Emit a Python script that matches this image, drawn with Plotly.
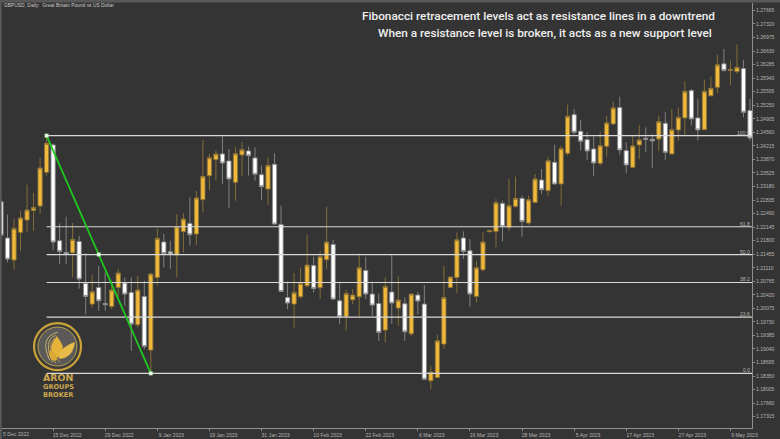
import plotly.graph_objects as go

highs = [1.22869,1.22461,1.22359,1.22563,1.23226,1.23014,1.23914,1.24475,1.24271,1.22239,
 1.2241,1.22249,1.21925,1.21474,1.20931,1.2116,1.2099,1.20778,1.21084,1.20862,
 1.20862,1.20905,1.20778,1.20982,1.22104,1.21969,1.21798,1.22479,1.22494,1.22902,
 1.23073,1.24366,1.24016,1.24093,1.24458,1.24136,1.24177,1.24305,1.24195,1.24177,
 1.2371,1.23922,1.24024,1.2269,1.2076,1.20974,1.21117,1.21951,1.2139,1.21525,
 1.22665,1.21816,1.20735,1.20548,1.20566,1.21474,1.2139,1.2076,1.20446,1.20862,
 1.21433,1.20888,1.20352,1.20454,1.20498,1.20668,1.1861,1.19401,1.2116,1.2088,
 1.2201,1.22035,1.21841,1.21288,1.2201,1.22066,1.22861,1.22818,1.23371,1.2343,
 1.22945,1.22945,1.23499,1.23626,1.2394,1.24246,1.2422,1.25266,1.25156,1.24876,
 1.2456,1.2445,1.2456,1.24985,1.2535,1.2547,1.24305,1.24475,1.24748,1.24687,
 1.24519,1.24985,1.2507,1.25156,1.25197,1.2586,1.25666,1.25419,1.25896,1.2598,
 1.26533,1.26686,1.26388,1.26796,1.26406,1.25411]
lows = [1.21798,1.21245,1.21058,1.21543,1.2201,1.22053,1.22486,1.23455,1.21561,1.21204,
 1.21204,1.20862,1.20574,1.19929,1.20097,1.20013,1.20013,1.20056,1.20352,1.2014,
 1.18993,1.19587,1.19036,1.18414,1.2065,1.21117,1.21084,1.20862,1.215,1.2167,
 1.21696,1.2252,1.23091,1.23328,1.23244,1.22632,1.22818,1.23438,1.23455,1.23328,
 1.22836,1.22716,1.22206,1.20497,1.20056,1.19587,1.20319,1.20607,1.2048,1.20311,
 1.21084,1.20293,1.19674,1.19503,1.20184,1.1986,1.20311,1.19885,1.19248,1.19205,
 1.19681,1.1963,1.19248,1.19375,1.19929,1.18246,1.18016,1.18297,1.19036,1.20599,
 1.20464,1.21331,1.20115,1.20225,1.21015,1.22015,1.21627,1.2178,1.22053,1.22632,
 1.219,1.22206,1.22749,1.22989,1.22928,1.23226,1.2269,1.23965,1.24501,1.24093,
 1.23856,1.23438,1.2371,1.2394,1.24748,1.23991,1.23514,1.23652,1.23881,1.2405,
 1.23652,1.24093,1.23856,1.23991,1.24348,1.24475,1.2473,1.24348,1.24621,1.25478,
 1.25554,1.26107,1.25768,1.26049,1.24942,1.24348]
opens = [1.22792,1.21867,1.21306,1.2201,1.22326,1.22571,1.22683,1.2354,1.24238,1.21798,
 1.215,1.21492,1.2178,1.20709,1.20184,1.20607,1.20199,1.20123,1.20607,1.20719,
 1.2048,1.19656,1.20378,1.19011,1.20862,1.21765,1.21518,1.21433,1.22028,1.22239,
 1.21969,1.22843,1.23455,1.23863,1.24009,1.2383,1.23285,1.23983,1.24085,1.23907,
 1.23481,1.23116,1.23744,1.22214,1.20352,1.20184,1.2037,1.2065,1.21168,1.20599,
 1.21313,1.21704,1.20268,1.1986,1.20293,1.2037,1.21041,1.20439,1.20199,1.19521,
 1.2049,1.20082,1.20191,1.19426,1.20413,1.20184,1.18228,1.18312,1.19164,1.20607,
 1.20862,1.21867,1.21543,1.20378,1.21058,1.22028,1.22035,1.22749,1.22137,1.22673,
 1.22877,1.22249,1.22775,1.23346,1.23073,1.23795,1.23244,1.24024,1.25011,1.24585,
 1.24373,1.24136,1.23769,1.24203,1.24774,1.25189,1.24093,1.23667,1.24238,1.24407,
 1.24381,1.24391,1.24789,1.24009,1.24621,1.24927,1.25623,1.24927,1.24628,1.25488,
 1.25707,1.26304,1.26133,1.26108,1.26184,1.25113]
closes = [1.21933,1.21331,1.22112,1.22377,1.22581,1.22647,1.23652,1.24279,1.21765,1.21525,
 1.21449,1.21831,1.20821,1.20378,1.20498,1.20268,1.20166,1.20541,1.20974,1.20439,
 1.19674,1.20541,1.19103,1.20949,1.21857,1.21474,1.21459,1.22155,1.22351,1.21951,
 1.22889,1.23438,1.23914,1.24009,1.23779,1.23371,1.24016,1.24118,1.23965,1.23489,
 1.23175,1.23718,1.22224,1.20505,1.20209,1.2048,1.20709,1.21178,1.20582,1.2139,
 1.21765,1.20311,1.1986,1.20454,1.20413,1.21109,1.20439,1.20158,1.1946,1.20633,
 1.20209,1.20286,1.19477,1.20439,1.2026,1.18271,1.1845,1.19248,1.20352,1.20872,
 1.21823,1.21525,1.20439,1.21109,1.21765,1.22061,1.22767,1.22155,1.2269,1.22877,
 1.2229,1.22843,1.23371,1.23098,1.23838,1.23244,1.24144,1.24968,1.2456,1.2433,
 1.24085,1.23779,1.2422,1.24799,1.25182,1.24111,1.23728,1.24213,1.24366,1.24381,
 1.2434,1.24832,1.2405,1.24628,1.24942,1.25605,1.24901,1.24621,1.25605,1.25682,
 1.26278,1.26133,1.26158,1.26217,1.2507,1.24417]

date_ticks = [0,8,16,24,32,40,48,56,64,72,80,88,96,104,112]
date_labels = ["5 Dec 2022","15 Dec 2022","29 Dec 2022","9 Jan 2023","19 Jan 2023","31 Jan 2023",
 "10 Feb 2023","22 Feb 2023","6 Mar 2023","16 Mar 2023","28 Mar 2023","5 Apr 2023",
 "17 Apr 2023","27 Apr 2023","9 May 2023"]
price_ticks = [1.17315,1.17660,1.18005,1.18350,1.18695,1.19040,1.19385,1.19730,1.20075,1.20420,
 1.20765,1.21110,1.21455,1.21800,1.22145,1.22490,1.22835,1.23180,1.23525,1.23870,
 1.24215,1.24560,1.24905,1.25250,1.25595,1.25940,1.26285,1.26630,1.26975,1.27320,1.27665]
fib_names = ["100.0","61.8","50.0","38.2","23.6","0.0"]
fib_levels = [1.24475,1.22155,1.21444,1.20735,1.19852,1.18419]
swing_bars = [7,15,23]
swing_prices = [1.24475,1.21447,1.18419]

BG = "#343434"
TICK = "#b4b4b4"
GOLD = "#f0b93a"
W, H = 780, 439
L, R, T, B = 1.3, 28, 3, 11.3
PW, PH = W-L-R, H-T-B
px = lambda x: (x-L)/PW
py = lambda y: (H-B-y)/PH
def path(s):
    out = []
    for tok in s.split():
        if "," in tok:
            a, b = tok.split(",")
            out.append(f"{px(float(a)):.5f},{py(float(b)):.5f}")
        else:
            out.append(tok)
    return " ".join(out)
def circle(cx, cy, r, **kw):
    return dict(type="circle", xref="paper", yref="paper", x0=px(cx-r), x1=px(cx+r),
                y0=py(cy+r), y1=py(cy-r), layer="above", **kw)
def curve(s, color, width=0.8, fill=None):
    d = dict(type="path", xref="paper", yref="paper", path=path(s), layer="above",
             line=dict(color=color, width=width))
    if fill:
        d["fillcolor"] = fill
    return d

fig = go.Figure()
fig.add_trace(go.Candlestick(
    x=list(range(len(opens))), open=opens, high=highs, low=lows, close=closes,
    increasing=dict(line=dict(color="#8d7438", width=0.9), fillcolor=GOLD),
    decreasing=dict(line=dict(color="#8a8a8a", width=0.9), fillcolor="#ffffff"),
    whiskerwidth=0, hoverinfo="skip", showlegend=False))
for lv in fib_levels:
    fig.add_trace(go.Scatter(x=[swing_bars[0], len(opens)], y=[lv, lv], mode="lines",
                             line=dict(color="#d8d8d8", width=1.1), showlegend=False, hoverinfo="skip"))
fig.add_trace(go.Scatter(x=swing_bars, y=swing_prices, mode="lines+markers",
                         line=dict(color="#1fc81f", width=1.8),
                         marker=dict(symbol="square", size=3.5, color="#f4fff0",
                                     line=dict(color="#8fe08f", width=0.5)),
                         showlegend=False, hoverinfo="skip"))

ann = []
for n, lv in zip(fib_names, fib_levels):
    ann.append(dict(text=n, xref="paper", x=0.9985, xanchor="right", yref="y", y=lv, yanchor="bottom",
                    yshift=-1, showarrow=False, font=dict(family="Liberation Sans", size=5, color="#bdbdbd"),
                    borderpad=0))
ann.append(dict(text=date_labels[0], xref="paper", yref="paper", x=px(2.5), y=py(433.5), xanchor="left",
                yanchor="middle", showarrow=False, borderpad=0,
                font=dict(family="Liberation Sans", size=5.1, color=TICK)))
ann.append(dict(text="GBPUSD, Daily:  Great Britain Pound vs US Dollar", xref="paper", yref="paper",
                x=px(3), y=py(5), xanchor="left", yanchor="middle", showarrow=False, borderpad=0,
                font=dict(family="Liberation Sans", size=4.9, color="#c8c8c8")))
ann.append(dict(text="Fibonacci retracement levels act as resistance lines in a downtrend", xref="paper", yref="paper",
                x=px(361), y=py(15.5), xanchor="left", yanchor="middle", showarrow=False, borderpad=0,
                font=dict(family="Roboto", size=11.8, color="#efefef", weight=500)))
ann.append(dict(text="When a resistance level is broken, it acts as a new support level", xref="paper", yref="paper",
                x=px(377), y=py(33), xanchor="left", yanchor="middle", showarrow=False, borderpad=0,
                font=dict(family="Roboto", size=11.8, color="#efefef", weight=500)))
for txt, y, s in [("ARON",377.0,9.4),("GROUPS",386.7,6.6),("BROKER",394.6,6.6)]:
    ann.append(dict(text=f"<b>{txt}</b>", xref="paper", yref="paper", x=px(58.3), y=py(y), xanchor="center",
                    yanchor="middle", showarrow=False, borderpad=0,
                    font=dict(family="DejaVu Sans", size=s, color="#cda94e")))

shapes = [
    dict(type="rect", xref="paper", yref="paper", x0=px(0), x1=px(2), y0=py(439), y1=py(0),
         fillcolor="#585858", line=dict(width=0), layer="above"),
    dict(type="rect", xref="paper", yref="paper", x0=px(0), x1=px(780), y0=py(2.5), y1=py(0),
         fillcolor="#585858", line=dict(width=0), layer="below"),
    circle(57.8, 346.3, 23.5, line=dict(color="#c9a23a", width=2.2), fillcolor="#3a3a38"),
    circle(57.8, 346.3, 19.5, line=dict(color="#d8b858", width=0.8), fillcolor="#5b5a58"),
    curve("M 58,332 Q 39,337 50,360", "#e0c878"),
    curve("M 56,335 Q 43,340 53,362", "#d8bc60"),
    curve("M 55,338 Q 46,344 56,363", "#c8a850"),
    curve("M 54,342 Q 49,350 60,362", "#c8a850"),
    curve("M 57,336 Q 50,345 52,351 Q 54,357 58,357 Q 64,354 63,346 Q 61,341 57,336 Z", "#e5b23a", 0.3, "#e5b23a"),
    curve("M 59,358 Q 60,347 75,342 Q 74,353 66,357 Q 62,359 59,358 Z", "#e9bb48", 0.3, "#e9bb48"),
    curve("M 50,350 Q 48,356 53,360 Q 58,361 57,357 Q 55,352 50,350 Z", "#d9a933", 0.3, "#d9a933"),
]

fig.update_layout(
    width=W, height=H, autosize=False,
    margin=dict(l=L, r=R, t=T, b=B, pad=0),
    paper_bgcolor=BG, plot_bgcolor=BG, boxgap=0.08,
    showlegend=False, annotations=ann, shapes=shapes,
    xaxis=dict(range=[0, 115.31], rangeslider=dict(visible=False), showgrid=False, zeroline=False,
               tickmode="array", tickvals=date_ticks, ticktext=[""] + date_labels[1:],
               tickfont=dict(family="Liberation Sans", size=5.1, color=TICK),
               ticks="outside", ticklen=1.5, tickcolor="#8c8c8c", ticklabelshift=14,
               ticklabelstandoff=0, showline=True, linecolor="#8f8f8f", linewidth=1),
    yaxis=dict(range=[1.17027, 1.27854], side="right", showgrid=False, zeroline=False,
               tickmode="array", tickvals=price_ticks, ticktext=[f"{v:.5f}" for v in price_ticks],
               tickfont=dict(family="Liberation Sans", size=5.1, color=TICK),
               ticks="outside", ticklen=2, tickcolor="#8c8c8c",
               showline=True, linecolor="#8f8f8f", linewidth=1),
)

fig.write_html("out.html", config=dict(displayModeBar=False),
               post_script="document.body.style.margin='0';document.body.style.background='#343434';")
